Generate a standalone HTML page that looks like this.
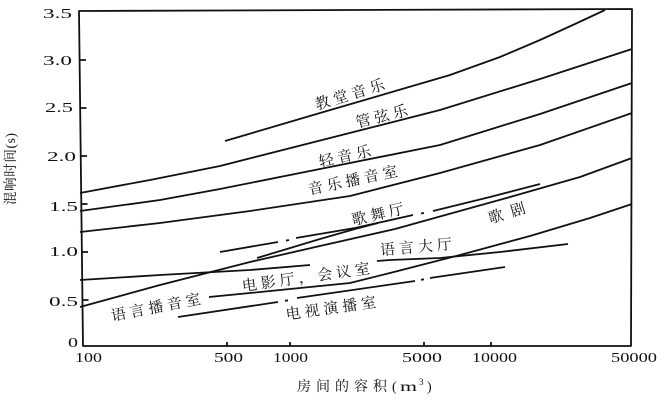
<!DOCTYPE html>
<html><head><meta charset="utf-8"><style>
html,body{margin:0;padding:0;background:#fff;}
svg{display:block;}
.n{font-family:"Liberation Serif","DejaVu Serif",serif;font-size:13.5px;fill:#111;}
.c{font-family:"Liberation Serif","Noto Serif CJK SC","Noto Sans CJK SC",serif;font-size:15px;fill:#111;letter-spacing:4px;}
.t{font-family:"Liberation Serif","Noto Serif CJK SC",serif;font-size:14px;fill:#111;}
</style></head><body>
<svg width="666" height="401" viewBox="0 0 666 401" xmlns="http://www.w3.org/2000/svg">
<rect x="0" y="0" width="666" height="401" fill="#fff"/>
<g fill="none" stroke="#111" stroke-width="1.8" stroke-linejoin="round" stroke-linecap="butt">
<path d="M79,11 L632,9 L631,346 L83,346 Z"/>
<path d="M80,60 h6 M80.5,108 h6 M81,156 h6 M81.5,204 h6 M82,252 h6 M82.5,300 h6"/>
<path d="M227,346 v-4 M290,346 v-4 M424,346 v-4 M491,346 v-4"/>
<polyline points="225,141 320,113 450,75 500,57 540,40 575,24 605,10"/>
<polyline points="80,193 150,180 220,166 330,138 440,110 540,79 632,49"/>
<polyline points="80,211 160,200 220,189 330,167 440,145 540,114 632,83"/>
<polyline points="80,232 160,223 250,211 350,196 440,173 540,145 632,113"/>
<polyline points="80,307 160,285 250,262 320,246 395,229 510,197 580,177 632,158"/>
<polyline points="257,258 320,239 355,229 378,223"/>
<polyline points="80,280 160,275 250,270 310,265"/>
<polyline points="209,297 250,293 300,288 350,283 390,273 460,255 530,236 590,218 632,204"/>
<polyline points="377,261 390,260 440,258 500,252 568,244"/>
<path d="M220,252 L278,242 M286,240.6 L289,240 M296,238 L355,228 L413,215 M421,213.5 L424,213 M433,211 L490,197 L540,184"/>
<path d="M178,317 L278,302 M285,300.8 L288,300.3 M297,298 L415,281 M421,279.8 L424,279.3 M430,278 L505,267"/>
</g>
<text class="n" x="43" y="18" textLength="29" lengthAdjust="spacingAndGlyphs">3.5</text>
<text class="n" x="43" y="65" textLength="29" lengthAdjust="spacingAndGlyphs">3.0</text>
<text class="n" x="45" y="112" textLength="28" lengthAdjust="spacingAndGlyphs">2.5</text>
<text class="n" x="47" y="161" textLength="29" lengthAdjust="spacingAndGlyphs">2.0</text>
<text class="n" x="49" y="211" textLength="29" lengthAdjust="spacingAndGlyphs">1.5</text>
<text class="n" x="49" y="256" textLength="29" lengthAdjust="spacingAndGlyphs">1.0</text>
<text class="n" x="49" y="306" textLength="29" lengthAdjust="spacingAndGlyphs">0.5</text>
<text class="n" x="68" y="347" textLength="10" lengthAdjust="spacingAndGlyphs">0</text>
<text class="n" x="75" y="362" textLength="27" lengthAdjust="spacingAndGlyphs">100</text>
<text class="n" x="214" y="362" textLength="29" lengthAdjust="spacingAndGlyphs">500</text>
<text class="n" x="273" y="362" textLength="35" lengthAdjust="spacingAndGlyphs">1000</text>
<text class="n" x="402" y="362" textLength="40" lengthAdjust="spacingAndGlyphs">5000</text>
<text class="n" x="472" y="362" textLength="45" lengthAdjust="spacingAndGlyphs">10000</text>
<text class="n" x="611" y="362" textLength="46" lengthAdjust="spacingAndGlyphs">50000</text>
<text class="t" x="297" y="391" style="letter-spacing:5px">房间的容积</text>
<text class="t" x="392" y="391">(</text>
<text class="t" x="400" y="391" textLength="17" lengthAdjust="spacingAndGlyphs">m</text>
<text class="t" x="419" y="385" style="font-size:9px">3</text>
<text class="t" x="427" y="391">)</text>
<text transform="translate(15,169) rotate(-90)" text-anchor="middle" textLength="72" lengthAdjust="spacing" style="font-family:'Liberation Serif','Noto Serif CJK SC',serif;font-size:13.5px;fill:#111;">混响时间(s)</text>
<text class="c" text-anchor="middle" dominant-baseline="central" transform="translate(352,95) rotate(-17)">教堂音乐</text>
<text class="c" text-anchor="middle" dominant-baseline="central" transform="translate(384,117) rotate(-14)">管弦乐</text>
<text class="c" text-anchor="middle" dominant-baseline="central" transform="translate(347,157) rotate(-12)">轻音乐</text>
<text class="c" text-anchor="middle" dominant-baseline="central" transform="translate(355,181) rotate(-12)">音乐播音室</text>
<text class="c" text-anchor="middle" dominant-baseline="central" transform="translate(380,215) rotate(-13)">歌舞厅</text>
<text class="c" text-anchor="middle" dominant-baseline="central" style="letter-spacing:8px" transform="translate(511,213) rotate(-17)">歌剧</text>
<text class="c" text-anchor="middle" dominant-baseline="central" transform="translate(418,248) rotate(-5)">语言大厅</text>
<text class="c" text-anchor="middle" dominant-baseline="central" transform="translate(308,278) rotate(-8)">电影厅，会议室</text>
<text class="c" text-anchor="middle" dominant-baseline="central" transform="translate(158,308) rotate(-11)">语言播音室</text>
<text class="c" text-anchor="middle" dominant-baseline="central" transform="translate(333,309) rotate(-8)">电视演播室</text>
</svg>
</body></html>
